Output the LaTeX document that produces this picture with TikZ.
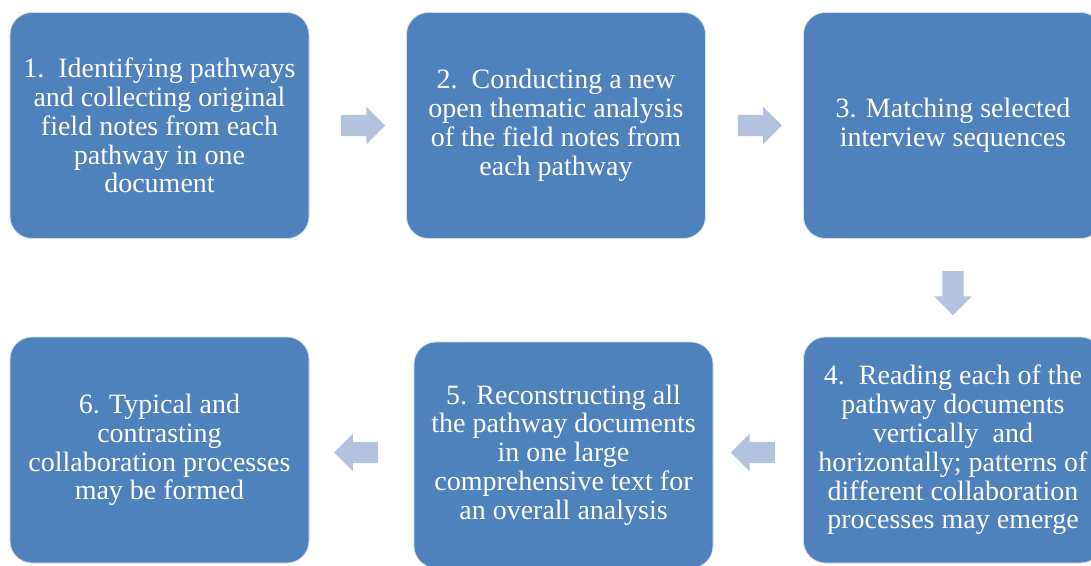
\documentclass[tikz,border=0pt]{standalone}
\usepackage{fontspec}
\setmainfont{Liberation Serif}
\usetikzlibrary{shapes.arrows,calc}

\definecolor{stageblue}{HTML}{4F81BD}
\definecolor{arrowblue}{HTML}{B3C2DD}

\tikzset{
  stagebox/.style={rectangle, rounded corners=22pt, fill=stageblue, draw=white!75!stageblue, line width=0.8pt,
    minimum width=299pt, minimum height=226pt, text=white, align=center, inner sep=0pt,
    font=\fontsize{28}{28.8}\selectfont},
  flowarrow/.style={single arrow, fill=arrowblue, draw=none, inner xsep=0pt, inner ysep=10.5pt,
    text height=0pt, text depth=0pt, minimum height=44pt, single arrow head extend=8pt,
    single arrow head indent=0pt},
}

\begin{document}
\begin{tikzpicture}[x=1pt, y=-1pt]
\clip (0,0) rectangle (1091,565);
\fill[white] (0,0) rectangle (1091,565);
% top row
\node[stagebox] (s1) at (159.5,125.5) {1.\ \ Identifying pathways\\and collecting original\\field notes from each\\pathway in one\\document};
\node[stagebox] (s2) at (556,125.5) {2.\ \ Conducting a new\\open thematic analysis\\of the field notes from\\each pathway};
\node[stagebox] (s3) at (953,125.5) {3. Matching selected\\interview sequences};
% bottom row
\node[stagebox] (s4) at (953,450) {4.\ \ Reading each of the\\pathway documents\\vertically\ \ and\\horizontally; patterns of\\different collaboration\\processes may emerge};
\node[stagebox] (s5) at (563.5,455) {5. Reconstructing all\\the pathway documents\\in one large\\comprehensive text for\\an overall analysis};
\node[stagebox] (s6) at (159.5,450) {6. Typical and\\contrasting\\collaboration processes\\may be formed};
% block arrows between the stages
\node[flowarrow] (a12) at ($(s1.east)!0.5!(s2.west)$) {};
\node[flowarrow] (a23) at ($(s2.east)!0.5!(s3.west)$) {};
\node[flowarrow, rotate=-90] (a34) at ($(s3.south)!0.5!(s4.north)$) {};
\node[flowarrow, shape border rotate=180] (a45) at ($(s4.west)!0.5!(s5.east)$) {};
\node[flowarrow, shape border rotate=180] (a56) at ($(s5.west)!0.5!(s6.east)$) {};
\end{tikzpicture}
\end{document}
